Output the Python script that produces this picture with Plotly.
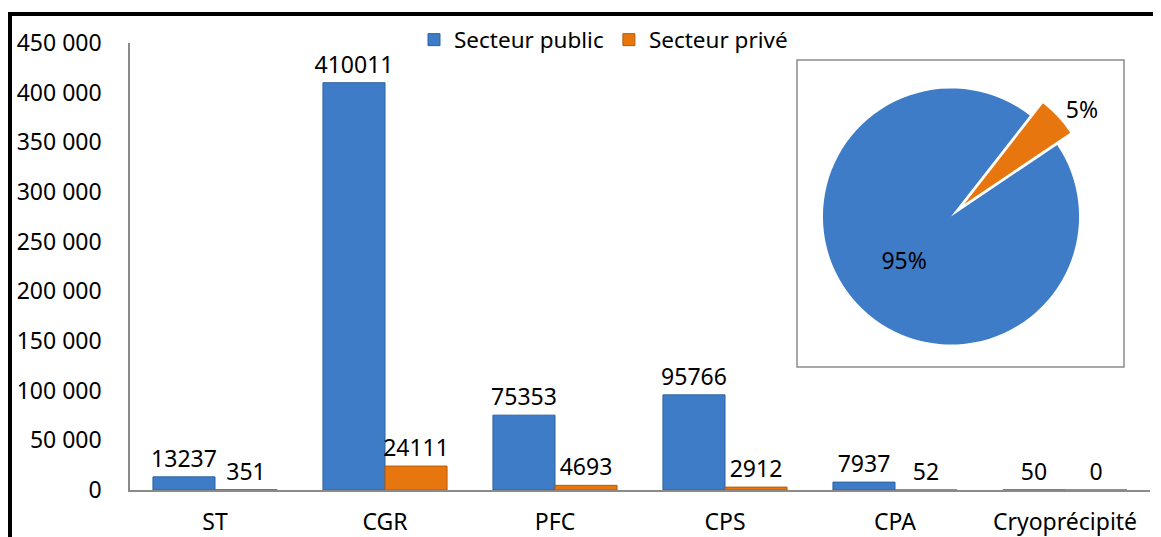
import plotly.graph_objects as go

categories = ["ST", "CGR", "PFC", "CPS", "CPA", "Cryoprécipité"]
public_vals = [13237, 410011, 75353, 95766, 7937, 50]
private_vals = [351, 24111, 4693, 2912, 52, 0]

pie_labels = ["Secteur privé", "Secteur public"]
pie_vals = [5, 95]

y_ticks = [0, 50000, 100000, 150000, 200000, 250000, 300000, 350000, 400000, 450000]

BLUE = "#3f7cc8"
BLUE_EDGE = "#2f609f"
ORANGE = "#e8760f"
ORANGE_EDGE = "#b85a08"
FONT = "Noto Sans"
FS = 23

# the page puts the figure 8px in from the window corner
OFF = 8
W, H = 1161, 537
L, R, T, B = 130 - OFF, 11 + OFF, 43 - OFF, 47 + OFF
pw, ph = W - L - R, H - T - B


def px_x(x):
    # window pixel -> paper x
    return (x - OFF - L) / pw


def px_y(y):
    # window pixel -> paper y
    return (H - B - (y - OFF)) / ph


label_font = dict(size=FS, color="black", family=FONT)

fig = go.Figure()

fig.add_trace(go.Bar(
    x=categories, y=public_vals, name="Secteur public",
    marker=dict(color=BLUE, line=dict(color=BLUE_EDGE, width=1)),
    text=[str(v) for v in public_vals], textposition="outside",
    textfont=label_font, outsidetextfont=label_font,
    constraintext="none", cliponaxis=False,
))
fig.add_trace(go.Bar(
    x=categories, y=private_vals, name="Secteur privé",
    marker=dict(color=ORANGE, line=dict(color=ORANGE_EDGE, width=1)),
    text=[str(v) for v in private_vals], textposition="outside",
    textfont=label_font, outsidetextfont=label_font,
    constraintext="none", cliponaxis=False,
))

# inset pie
fig.add_trace(go.Pie(
    labels=pie_labels, values=pie_vals,
    marker=dict(colors=[ORANGE, BLUE], line=dict(color="white", width=0)),
    pull=[0.14, 0], sort=False, direction="clockwise", rotation=38,
    textinfo="percent", texttemplate="%{percent:.0%}",
    textposition=["outside", "inside"],
    textfont=label_font, insidetextfont=label_font, outsidetextfont=label_font,
    insidetextorientation="horizontal",
    showlegend=False, hoverinfo="label+percent",
    domain=dict(x=[px_x(805), px_x(1097)], y=[px_y(363), px_y(70)]),
))

shapes = [
    # inset frame
    dict(type="rect", xref="paper", yref="paper",
         x0=px_x(797), x1=px_x(1124), y0=px_y(367), y1=px_y(60),
         line=dict(color="#8c8c8c", width=1.5), layer="below"),
    # thick outer border (top + left)
    dict(type="line", xref="paper", yref="paper",
         x0=px_x(8), x1=px_x(1175), y0=px_y(14), y1=px_y(14),
         line=dict(color="black", width=4)),
    dict(type="line", xref="paper", yref="paper",
         x0=px_x(10), x1=px_x(10), y0=px_y(12), y1=px_y(545),
         line=dict(color="black", width=4)),
]

fig.update_layout(
    width=W, height=H,
    margin=dict(l=L, r=R, t=T, b=B, autoexpand=False),
    paper_bgcolor="white", plot_bgcolor="white",
    font=dict(family=FONT, size=FS, color="black"),
    separators=". ",
    barmode="group", bargap=0.27, bargroupgap=0,
    shapes=shapes,
    legend=dict(
        orientation="h", x=px_x(414), y=px_y(40),
        xanchor="left", yanchor="middle",
        font=dict(size=22.5, family=FONT), bgcolor="rgba(0,0,0,0)",
        itemwidth=30, tracegroupgap=0,
    ),
)

fig.update_yaxes(
    range=[0, 450000], tickvals=y_ticks, tickformat=",d",
    showgrid=False, zeroline=False,
    showline=True, linecolor="#8a8a8a", linewidth=1.5,
    ticks="", ticklabelstandoff=22,
    tickfont=dict(size=FS, family=FONT),
)
fig.update_xaxes(
    showgrid=False, showline=True, linecolor="#8a8a8a", linewidth=1.5,
    ticks="", ticklabelstandoff=11,
    tickfont=dict(size=FS, family=FONT),
)

fig.write_html("out.html")
